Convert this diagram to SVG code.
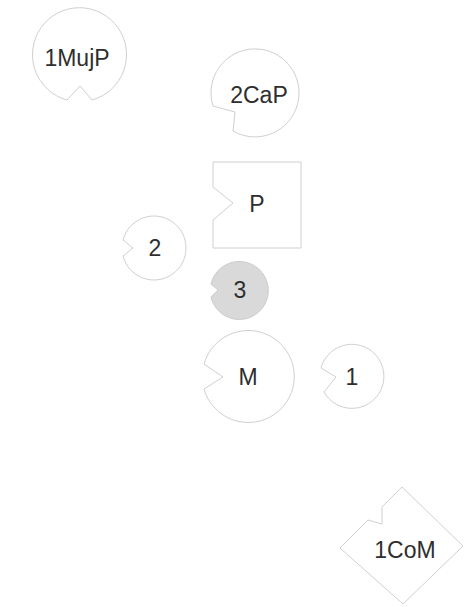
<svg xmlns="http://www.w3.org/2000/svg" width="466" height="607" viewBox="0 0 466 607">
<style>
.shape{fill:#ffffff;stroke:#d0d0d0;stroke-width:1}
.filled{fill:#d9d9d9;stroke:#cccccc;stroke-width:1}
.lbl{font-family:"Liberation Sans",Arial,sans-serif;font-size:23px;fill:#2e2e2e;text-anchor:middle}
</style>
<rect width="466" height="607" fill="#ffffff"/>
<g id="connectors"></g>
<g id="n1MujP">
<path class="shape" d="M67,100 A47,47 0 1 1 92,100 L80,86 Z"/>
<text class="lbl" x="77" y="66">1MujP</text>
</g>
<g id="n2CaP">
<path class="shape" d="M213,106 A44,44 0 1 1 233,131 L235,112 Z"/>
<text class="lbl" x="259" y="103">2CaP</text>
</g>
<g id="nP">
<path class="shape" d="M213,162 L301,162 L301,248 L213,248 L213,220 L233,203 L213,187 Z"/>
<text class="lbl" x="257" y="212">P</text>
</g>
<g id="n2">
<path class="shape" d="M123,240 A32,32 0 1 1 123,256 L133,248 Z"/>
<text class="lbl" x="155" y="256">2</text>
</g>
<g id="n3">
<path class="filled" d="M211,284 A29,29 0 1 1 211,297 L218,290 Z"/>
<text class="lbl" x="240" y="298">3</text>
</g>
<g id="nM">
<path class="shape" d="M204,364 A46,46 0 1 1 204,389 L223,377 Z"/>
<text class="lbl" x="248" y="385">M</text>
</g>
<g id="n1">
<path class="shape" d="M321,368 A32,32 0 1 1 324,392 L336,377 Z"/>
<text class="lbl" x="352" y="385">1</text>
</g>
<g id="n1CoM">
<path class="shape" d="M402,487 L463,546 L403,604 L340,548 L368,520 L382,524 L382,507 Z"/>
<text class="lbl" x="405" y="558">1CoM</text>
</g>
</svg>
